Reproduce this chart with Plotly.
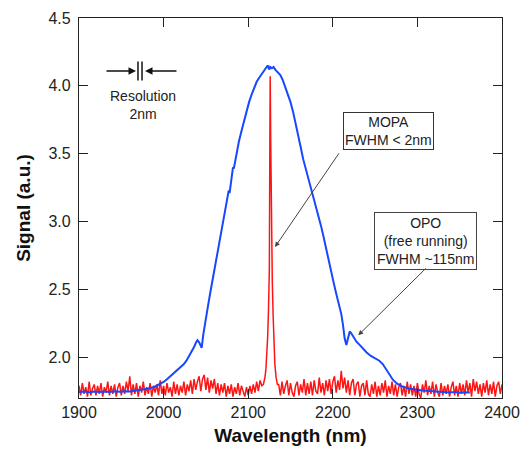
import plotly.graph_objects as go

# ---------------- data ----------------
blue_wl = [1900, 1906, 1912, 1918, 1924, 1930, 1936, 1942, 1948, 1954, 1960, 1966, 1972, 1978,
           1984, 1990, 1995, 2000, 2004, 2008, 2012, 2016, 2020, 2024, 2027, 2030, 2033, 2036,
           2038, 2040, 2042, 2044, 2045, 2047, 2049, 2052, 2055, 2058, 2061, 2064, 2067, 2070,
           2073, 2075, 2077, 2078, 2080, 2082, 2083, 2086, 2089, 2092, 2095, 2098, 2101, 2104,
           2107, 2110, 2113, 2116, 2119, 2121, 2123, 2125, 2126, 2128, 2130, 2132, 2135, 2138,
           2141, 2144, 2147, 2150, 2153, 2156, 2159, 2162, 2165, 2168, 2171, 2174, 2177, 2180,
           2183, 2186, 2189, 2192, 2195, 2198, 2201, 2204, 2207, 2210, 2212, 2214, 2216, 2218,
           2220, 2222, 2225, 2228, 2232, 2236, 2240, 2245, 2250, 2255, 2259, 2263, 2267, 2271,
           2276, 2282, 2290, 2298, 2306, 2314, 2322, 2330, 2338, 2344, 2350, 2356, 2362]
blue_sig = [1.745, 1.748, 1.743, 1.747, 1.744, 1.748, 1.745, 1.749, 1.746, 1.750, 1.748, 1.753,
            1.757, 1.762, 1.772, 1.785, 1.800, 1.818, 1.838, 1.860, 1.880, 1.905, 1.925, 1.950,
            1.975, 2.005, 2.040, 2.075, 2.105, 2.125, 2.110, 2.075, 2.070, 2.170, 2.260, 2.360,
            2.470, 2.575, 2.680, 2.770, 2.875, 2.980, 3.080, 3.150, 3.230, 3.210, 3.310, 3.400,
            3.390, 3.500, 3.590, 3.665, 3.740, 3.810, 3.880, 3.935, 3.980, 4.030, 4.060, 4.090,
            4.120, 4.140, 4.150, 4.120, 4.140, 4.130, 4.140, 4.120, 4.100, 4.080, 4.040, 3.990,
            3.940, 3.880, 3.810, 3.730, 3.640, 3.550, 3.460, 3.390, 3.330, 3.270, 3.200, 3.120,
            3.050, 2.970, 2.890, 2.800, 2.720, 2.640, 2.550, 2.470, 2.400, 2.320, 2.240, 2.140,
            2.090, 2.150, 2.190, 2.175, 2.140, 2.115, 2.090, 2.060, 2.035, 2.010, 1.990, 1.975,
            1.950, 1.910, 1.870, 1.835, 1.805, 1.785, 1.770, 1.762, 1.755, 1.752, 1.748, 1.745,
            1.740, 1.745, 1.738, 1.743, 1.740]

# red (MOPA) trace: sampled every 2 nm outside the narrow line, finer through the line
red_left_wl = list(range(1900, 2118, 2))
red_left_sig = [
    1.79, 1.72, 1.81, 1.73, 1.78, 1.71, 1.82, 1.72, 1.77, 1.80,
    1.72, 1.79, 1.73, 1.81, 1.71, 1.78, 1.74, 1.82, 1.72, 1.79,
    1.73, 1.80, 1.71, 1.78, 1.81, 1.72, 1.79, 1.73, 1.82, 1.75,
    1.86, 1.72, 1.80, 1.73, 1.81, 1.71, 1.79, 1.74, 1.82, 1.72,
    1.78, 1.73, 1.81, 1.71, 1.79, 1.74, 1.80, 1.72, 1.83, 1.73,
    1.79, 1.72, 1.81, 1.74, 1.78, 1.71, 1.82, 1.73, 1.80, 1.72,
    1.79, 1.74, 1.82, 1.72, 1.80, 1.75, 1.83, 1.73, 1.84, 1.76,
    1.82, 1.86, 1.75, 1.84, 1.87, 1.76, 1.85, 1.74, 1.83, 1.77,
    1.84, 1.73, 1.81, 1.72, 1.80, 1.74, 1.81, 1.71, 1.79, 1.73,
    1.80, 1.71, 1.78, 1.73, 1.81, 1.72, 1.79, 1.74, 1.71, 1.78,
    1.72, 1.79, 1.73, 1.80, 1.74, 1.82, 1.75, 1.83, 1.79]
red_peak_wl = [2118, 2120, 2121, 2122, 2123, 2124, 2125, 2125.6, 2126, 2126.6, 2127.5, 2128.5,
               2129.5, 2130.5, 2131.5, 2133, 2134.5]
red_peak_sig = [1.80, 1.86, 1.92, 2.00, 2.15, 2.35, 2.65, 3.60, 4.07, 3.60, 2.90, 2.55,
                2.30, 2.08, 1.95, 1.85, 1.80]
red_right_wl = list(range(2136, 2401, 2))
red_right_sig = [
    1.80, 1.72, 1.82, 1.73, 1.79, 1.83, 1.72, 1.81, 1.74, 1.71,
    1.79, 1.82, 1.72, 1.80, 1.74, 1.84, 1.72, 1.81, 1.73, 1.82,
    1.72, 1.83, 1.75, 1.73, 1.85, 1.74, 1.81, 1.72, 1.83, 1.75,
    1.84, 1.73, 1.82, 1.86, 1.74, 1.83, 1.76, 1.90, 1.77, 1.85,
    1.74, 1.83, 1.72, 1.81, 1.84, 1.72, 1.80, 1.82, 1.71, 1.79,
    1.81, 1.72, 1.83, 1.73, 1.71, 1.80, 1.73, 1.82, 1.71, 1.79,
    1.72, 1.81, 1.74, 1.83, 1.71, 1.79, 1.73, 1.82, 1.72, 1.80,
    1.71, 1.78, 1.81, 1.72, 1.79, 1.71, 1.82, 1.73, 1.80, 1.72,
    1.79, 1.71, 1.81, 1.73, 1.70, 1.80, 1.74, 1.83, 1.72, 1.79,
    1.73, 1.82, 1.71, 1.80, 1.74, 1.71, 1.81, 1.72, 1.79, 1.73,
    1.80, 1.71, 1.78, 1.82, 1.72, 1.79, 1.71, 1.81, 1.73, 1.80,
    1.72, 1.83, 1.74, 1.81, 1.71, 1.84, 1.75, 1.82, 1.73, 1.80,
    1.71, 1.81, 1.74, 1.83, 1.72, 1.80, 1.73, 1.82, 1.71, 1.79,
    1.82, 1.73, 1.80]
red_wl = red_left_wl + red_peak_wl + red_right_wl
red_sig = red_left_sig + red_peak_sig + red_right_sig

x_ticks = [1900, 2000, 2100, 2200, 2300, 2400]
y_ticks = [2.0, 2.5, 3.0, 3.5, 4.0, 4.5]

# ---------------- figure ----------------
FONT = "Liberation Sans, Arial, Helvetica, sans-serif"

fig = go.Figure()
fig.add_trace(go.Scatter(x=red_wl, y=red_sig, mode="lines",
                         line=dict(color="#ff1414", width=1.5), showlegend=False))
fig.add_trace(go.Scatter(x=blue_wl, y=blue_sig, mode="lines",
                         line=dict(color="#1747ff", width=2), showlegend=False))

axis_common = dict(showgrid=False, zeroline=False, showline=True, linecolor="#222",
                   linewidth=1.2, mirror="ticks", ticks="inside", ticklen=9,
                   tickcolor="#222", tickwidth=1.2, automargin=False,
                   tickfont=dict(family=FONT, size=16, color="#222"))

fig.update_xaxes(range=[1900, 2400], tickvals=x_ticks, ticktext=[str(v) for v in x_ticks],
                 title=dict(text="Wavelength (nm)", standoff=8,
                            font=dict(family=FONT, size=19, color="#111", weight="bold")),
                 **axis_common)
fig.update_yaxes(range=[1.7, 4.5], tickvals=y_ticks, ticktext=[f"{v:.1f}" for v in y_ticks],
                 title=dict(text="Signal (a.u.)", standoff=12,
                            font=dict(family=FONT, size=19, color="#111", weight="bold")),
                 ticklabelstandoff=4, **axis_common)

# resolution marker
fig.add_annotation(x=1967.4, y=4.11, ax=1930.7, ay=4.11, axref="x", ayref="y",
                   xref="x", yref="y", text="", showarrow=True, arrowhead=2,
                   arrowsize=1, arrowwidth=1.5, arrowcolor="#111")
fig.add_annotation(x=1978.0, y=4.11, ax=2017.0, ay=4.11, axref="x", ayref="y",
                   xref="x", yref="y", text="", showarrow=True, arrowhead=2,
                   arrowsize=1, arrowwidth=1.5, arrowcolor="#111")
for xb in (1969.7, 1974.5):
    fig.add_shape(type="line", x0=xb, x1=xb, y0=4.04, y1=4.18, xref="x", yref="y",
                  line=dict(color="#111", width=1.5))
fig.add_annotation(x=1975.6, y=3.862, xref="x", yref="y", text="Resolution<br>2nm",
                   showarrow=False, font=dict(family=FONT, size=14, color="#222"),
                   align="center")

# MOPA label and arrow
fig.add_annotation(x=2266.4, y=3.667, xref="x", yref="y", text="MOPA<br>FWHM < 2nm",
                   showarrow=False, font=dict(family=FONT, size=14, color="#222"),
                   align="center", bordercolor="#333", borderwidth=1, borderpad=1,
                   bgcolor="white")
fig.add_annotation(x=2131.7, y=2.813, ax=2208.5, ay=3.514, axref="x", ayref="y",
                   xref="x", yref="y", text="", showarrow=True, arrowhead=2,
                   arrowsize=1, arrowwidth=1, arrowcolor="#444")

# OPO label and arrow
fig.add_annotation(x=2309.5, y=2.855, xref="x", yref="y",
                   text="OPO<br>(free running)<br>FWHM ~115nm",
                   showarrow=False, font=dict(family=FONT, size=14, color="#222"),
                   align="center", bordercolor="#444", borderwidth=1, borderpad=2,
                   bgcolor="white")
fig.add_annotation(x=2230.1, y=2.162, ax=2311.7, ay=2.666, axref="x", ayref="y",
                   xref="x", yref="y", text="", showarrow=True, arrowhead=2,
                   arrowsize=1, arrowwidth=1, arrowcolor="#444")

fig.update_layout(width=526, height=450, margin=dict(l=79, r=24, t=18, b=52),
                  plot_bgcolor="white", paper_bgcolor="white",
                  font=dict(family=FONT))

fig.write_html("out.html", config={"displayModeBar": False},
               post_script="document.body.style.margin='0';document.body.style.overflow='hidden';")
